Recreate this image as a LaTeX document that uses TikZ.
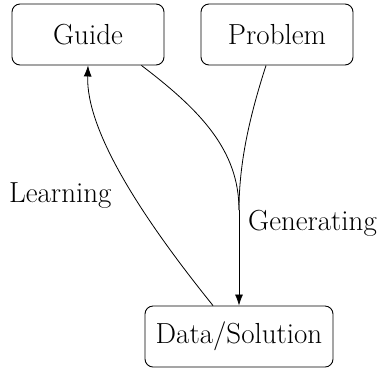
\documentclass[tikz,border=0pt]{standalone}
\usetikzlibrary{arrows.meta}
\begin{document}
\begin{tikzpicture}[x=1pt,y=-1pt,
  box/.style={draw,rounded corners=8pt,line width=0.9pt,minimum height=61pt,inner sep=0pt,font=\fontsize{29}{34}\selectfont},
  lbl/.style={inner sep=0pt,anchor=base west,font=\fontsize{29}{34}\selectfont},
  conn/.style={line width=0.8pt},
  tip/.style={-{Latex[length=11pt,width=8pt]}}]
\useasboundingbox (0,0) rectangle (379,368);
\node[box,minimum width=152pt] (guide) at (88,34.5) {Guide};
\node[box,minimum width=152pt] (problem) at (277,34.5) {Problem};
\node[box,minimum width=188pt] (data) at (239,336.5) {Data/Solution};
\coordinate (m) at (239,210);
\draw[conn] (guide.south east) ++(-23,0) .. controls (200,110) and (239,150) .. (m);
\draw[conn] (problem.south) ++(-11,0) .. controls (251,112) and (239,160) .. (m);
\draw[conn,tip] (m) -- (data.north);
\draw[conn,tip] (data.north) ++(-26,0) .. controls (140,215) and (86,130) .. (guide.south);
\node[lbl] (learning) at (9,202) {Learning};
\node[lbl] (generating) at (248,230) {Generating};
\end{tikzpicture}
\end{document}
